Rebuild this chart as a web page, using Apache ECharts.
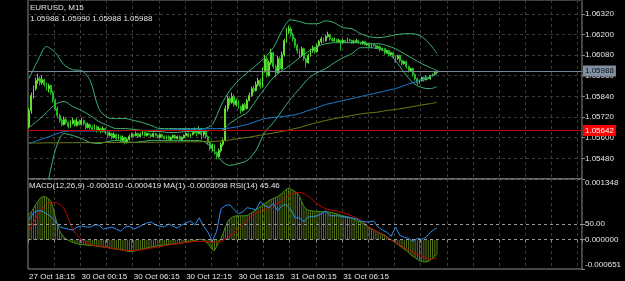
<!DOCTYPE html>
<html>
<head>
<meta charset="utf-8">
<script src="https://cdn.jsdelivr.net/npm/echarts@6/dist/echarts.min.js"></script>
<style>
  html, body { margin: 0; padding: 0; background: #000; }
  #main { width: 625px; height: 281px; }
</style>
</head>
<body>
<div id="main"></div>
<script>
// ---- chart data ----
const symbolTitle = 'EURUSD, M15';
const ohlcLine = '1.05988 1.05990 1.05988 1.05988';
const macdTitle = 'MACD(12,26,9) -0.000310 -0.000419 MA(1) -0.0003098 RSI(14) 45.46';

const timeLabelBars = [0, 24, 48, 72, 96, 120, 144];
const timeLabels = ['27 Oct 18:15', '30 Oct 00:15', '30 Oct 06:15', '30 Oct 12:15', '30 Oct 18:15', '31 Oct 00:15', '31 Oct 06:15'];

const bidPrice = 1.05988;
const levelPrice = 1.05642;

const opens = [
  1.05665, 1.05758, 1.05845, 1.05885, 1.05932, 1.05943, 1.05920, 1.05937, 1.05908, 1.05885,
  1.05903, 1.05862, 1.05816, 1.05769, 1.05729, 1.05700, 1.05677, 1.05706, 1.05688, 1.05665,
  1.05682, 1.05700, 1.05671, 1.05694, 1.05677, 1.05700, 1.05682, 1.05659, 1.05677, 1.05659,
  1.05648, 1.05665, 1.05642, 1.05653, 1.05636, 1.05653, 1.05630, 1.05613, 1.05624, 1.05601,
  1.05619, 1.05595, 1.05607, 1.05584, 1.05601, 1.05572, 1.05590, 1.05607, 1.05619, 1.05613,
  1.05624, 1.05607, 1.05619, 1.05630, 1.05613, 1.05624, 1.05619, 1.05607, 1.05624, 1.05613,
  1.05601, 1.05619, 1.05607, 1.05595, 1.05607, 1.05590, 1.05601, 1.05613, 1.05595, 1.05607,
  1.05590, 1.05601, 1.05613, 1.05624, 1.05607, 1.05619, 1.05630, 1.05642, 1.05624, 1.05648,
  1.05619, 1.05636, 1.05607, 1.05572, 1.05537, 1.05555, 1.05514, 1.05491, 1.05526, 1.05561,
  1.05584, 1.05769, 1.05827, 1.05804, 1.05839, 1.05792, 1.05816, 1.05781, 1.05758, 1.05792,
  1.05769, 1.05816, 1.05845, 1.05885, 1.05874, 1.05908, 1.05932, 1.05897, 1.05990, 1.06059,
  1.05961, 1.06036, 1.06094, 1.06013, 1.05978, 1.06059, 1.06001, 1.06082, 1.06164, 1.06222,
  1.06233, 1.06198, 1.06175, 1.06135, 1.06106, 1.06077, 1.06117, 1.06059, 1.06036, 1.06077,
  1.06106, 1.06123, 1.06100, 1.06135, 1.06158, 1.06175, 1.06164, 1.06187, 1.06198, 1.06175,
  1.06164, 1.06169, 1.06158, 1.06164, 1.06152, 1.06164, 1.06158, 1.06169, 1.06164, 1.06152,
  1.06158, 1.06164, 1.06152, 1.06146, 1.06158, 1.06140, 1.06146, 1.06129, 1.06140, 1.06135,
  1.06123, 1.06129, 1.06111, 1.06117, 1.06094, 1.06106, 1.06082, 1.06094, 1.06071, 1.06059,
  1.06077, 1.06048, 1.06030, 1.06042, 1.06013, 1.05990, 1.06001, 1.05966, 1.05943, 1.05920,
  1.05932, 1.05949, 1.05937, 1.05949, 1.05943, 1.05961, 1.05966, 1.05978
];
const closes = [
  1.05758, 1.05845, 1.05885, 1.05932, 1.05943, 1.05920, 1.05937, 1.05908, 1.05885, 1.05903,
  1.05862, 1.05816, 1.05769, 1.05729, 1.05700, 1.05677, 1.05706, 1.05688, 1.05665, 1.05682,
  1.05700, 1.05671, 1.05694, 1.05677, 1.05700, 1.05682, 1.05659, 1.05677, 1.05659, 1.05648,
  1.05665, 1.05642, 1.05653, 1.05636, 1.05653, 1.05630, 1.05613, 1.05624, 1.05601, 1.05619,
  1.05595, 1.05607, 1.05584, 1.05601, 1.05572, 1.05590, 1.05607, 1.05619, 1.05613, 1.05624,
  1.05607, 1.05619, 1.05630, 1.05613, 1.05624, 1.05619, 1.05607, 1.05624, 1.05613, 1.05601,
  1.05619, 1.05607, 1.05595, 1.05607, 1.05590, 1.05601, 1.05613, 1.05595, 1.05607, 1.05590,
  1.05601, 1.05613, 1.05624, 1.05607, 1.05619, 1.05630, 1.05642, 1.05624, 1.05648, 1.05619,
  1.05636, 1.05607, 1.05572, 1.05537, 1.05555, 1.05514, 1.05491, 1.05526, 1.05561, 1.05584,
  1.05769, 1.05827, 1.05804, 1.05839, 1.05792, 1.05816, 1.05781, 1.05758, 1.05792, 1.05769,
  1.05816, 1.05845, 1.05885, 1.05874, 1.05908, 1.05932, 1.05897, 1.05990, 1.06059, 1.05961,
  1.06036, 1.06094, 1.06013, 1.05978, 1.06059, 1.06001, 1.06082, 1.06164, 1.06222, 1.06233,
  1.06198, 1.06175, 1.06135, 1.06106, 1.06077, 1.06117, 1.06059, 1.06036, 1.06077, 1.06106,
  1.06123, 1.06100, 1.06135, 1.06158, 1.06175, 1.06164, 1.06187, 1.06198, 1.06175, 1.06164,
  1.06169, 1.06158, 1.06164, 1.06152, 1.06164, 1.06158, 1.06169, 1.06164, 1.06152, 1.06158,
  1.06164, 1.06152, 1.06146, 1.06158, 1.06140, 1.06146, 1.06129, 1.06140, 1.06135, 1.06123,
  1.06129, 1.06111, 1.06117, 1.06094, 1.06106, 1.06082, 1.06094, 1.06071, 1.06059, 1.06077,
  1.06048, 1.06030, 1.06042, 1.06013, 1.05990, 1.06001, 1.05966, 1.05943, 1.05920, 1.05932,
  1.05949, 1.05937, 1.05949, 1.05943, 1.05961, 1.05966, 1.05978, 1.05988
];
const lows = [
  1.05653, 1.05740, 1.05827, 1.05874, 1.05914, 1.05903, 1.05908, 1.05897, 1.05874, 1.05862,
  1.05851, 1.05804, 1.05758, 1.05712, 1.05688, 1.05665, 1.05671, 1.05677, 1.05653, 1.05659,
  1.05677, 1.05665, 1.05665, 1.05671, 1.05671, 1.05671, 1.05648, 1.05653, 1.05648, 1.05636,
  1.05642, 1.05630, 1.05636, 1.05624, 1.05630, 1.05619, 1.05601, 1.05607, 1.05590, 1.05595,
  1.05584, 1.05590, 1.05572, 1.05578, 1.05561, 1.05566, 1.05584, 1.05601, 1.05601, 1.05607,
  1.05601, 1.05601, 1.05613, 1.05607, 1.05607, 1.05613, 1.05601, 1.05601, 1.05607, 1.05595,
  1.05595, 1.05601, 1.05590, 1.05590, 1.05584, 1.05584, 1.05595, 1.05590, 1.05590, 1.05584,
  1.05584, 1.05595, 1.05607, 1.05601, 1.05601, 1.05613, 1.05624, 1.05607, 1.05619, 1.05590,
  1.05607, 1.05595, 1.05561, 1.05526, 1.05520, 1.05503, 1.05474, 1.05480, 1.05514, 1.05549,
  1.05578, 1.05752, 1.05787, 1.05798, 1.05781, 1.05781, 1.05769, 1.05740, 1.05752, 1.05758,
  1.05764, 1.05810, 1.05839, 1.05862, 1.05868, 1.05897, 1.05885, 1.05891, 1.05978, 1.05949,
  1.05955, 1.06024, 1.06001, 1.05949, 1.05972, 1.05990, 1.05995, 1.06071, 1.06152, 1.06204,
  1.06187, 1.06158, 1.06123, 1.06088, 1.06065, 1.06071, 1.06048, 1.06007, 1.06030, 1.06071,
  1.06094, 1.06088, 1.06094, 1.06129, 1.06146, 1.06152, 1.06158, 1.06181, 1.06164, 1.06158,
  1.06158, 1.06152, 1.06152, 1.06106, 1.06146, 1.06152, 1.06152, 1.06158, 1.06146, 1.06146,
  1.06152, 1.06146, 1.06140, 1.06140, 1.06135, 1.06135, 1.06123, 1.06123, 1.06129, 1.06117,
  1.06117, 1.06100, 1.06106, 1.06082, 1.06088, 1.06071, 1.06077, 1.06059, 1.06036, 1.06053,
  1.06036, 1.06019, 1.06024, 1.06001, 1.05978, 1.05984, 1.05955, 1.05932, 1.05908, 1.05914,
  1.05926, 1.05926, 1.05932, 1.05937, 1.05937, 1.05955, 1.05961, 1.05972
];
const highs = [
  1.05775, 1.05862, 1.05903, 1.05949, 1.05972, 1.05955, 1.05961, 1.05943, 1.05920, 1.05914,
  1.05908, 1.05874, 1.05827, 1.05781, 1.05740, 1.05712, 1.05723, 1.05717, 1.05694, 1.05700,
  1.05717, 1.05706, 1.05712, 1.05706, 1.05717, 1.05706, 1.05688, 1.05688, 1.05682, 1.05671,
  1.05677, 1.05671, 1.05665, 1.05659, 1.05665, 1.05659, 1.05636, 1.05636, 1.05630, 1.05630,
  1.05624, 1.05619, 1.05613, 1.05613, 1.05607, 1.05601, 1.05619, 1.05630, 1.05624, 1.05636,
  1.05630, 1.05630, 1.05642, 1.05636, 1.05630, 1.05630, 1.05624, 1.05630, 1.05630, 1.05619,
  1.05624, 1.05624, 1.05613, 1.05613, 1.05613, 1.05607, 1.05619, 1.05619, 1.05613, 1.05613,
  1.05607, 1.05619, 1.05630, 1.05630, 1.05624, 1.05636, 1.05659, 1.05648, 1.05665, 1.05653,
  1.05642, 1.05642, 1.05613, 1.05578, 1.05566, 1.05561, 1.05520, 1.05537, 1.05572, 1.05595,
  1.05787, 1.05845, 1.05839, 1.05862, 1.05851, 1.05827, 1.05821, 1.05787, 1.05798, 1.05804,
  1.05827, 1.05862, 1.05897, 1.05903, 1.05926, 1.05949, 1.05943, 1.06007, 1.06082, 1.06071,
  1.06048, 1.06117, 1.06100, 1.06024, 1.06077, 1.06071, 1.06100, 1.06175, 1.06239, 1.06250,
  1.06245, 1.06210, 1.06181, 1.06146, 1.06117, 1.06129, 1.06123, 1.06065, 1.06088, 1.06117,
  1.06135, 1.06129, 1.06146, 1.06169, 1.06187, 1.06181, 1.06198, 1.06216, 1.06204, 1.06181,
  1.06181, 1.06175, 1.06175, 1.06169, 1.06175, 1.06169, 1.06181, 1.06175, 1.06169, 1.06169,
  1.06175, 1.06169, 1.06158, 1.06164, 1.06164, 1.06152, 1.06152, 1.06146, 1.06146, 1.06140,
  1.06135, 1.06135, 1.06123, 1.06123, 1.06111, 1.06111, 1.06100, 1.06100, 1.06077, 1.06082,
  1.06082, 1.06053, 1.06048, 1.06048, 1.06019, 1.06007, 1.06007, 1.05972, 1.05949, 1.05937,
  1.05955, 1.05955, 1.05961, 1.05955, 1.05966, 1.05972, 1.05984, 1.05990
];

// indicator lines, one reading every 4 bars (last one = last bar)
const bandUpper = [
  1.05943, 1.06048, 1.06129, 1.06094, 1.06024, 1.05995, 1.05990, 1.05932, 1.05769, 1.05717,
  1.05711, 1.05711, 1.05700, 1.05688, 1.05671, 1.05653, 1.05653, 1.05653, 1.05653, 1.05653,
  1.05653, 1.05677, 1.05787, 1.05874, 1.05932, 1.05978, 1.06019, 1.06065, 1.06123, 1.06222,
  1.06285, 1.06274, 1.06262, 1.06262, 1.06279, 1.06268, 1.06239, 1.06233, 1.06204, 1.06187,
  1.06181, 1.06187, 1.06198, 1.06204, 1.06204, 1.06187, 1.06140, 1.06088
];
const bandMiddle = [
  1.05659, 1.05700, 1.05746, 1.05793, 1.05810, 1.05781, 1.05758, 1.05729, 1.05694, 1.05671,
  1.05653, 1.05653, 1.05648, 1.05642, 1.05636, 1.05636, 1.05630, 1.05630, 1.05636, 1.05636,
  1.05636, 1.05642, 1.05642, 1.05682, 1.05717, 1.05746, 1.05816, 1.05885, 1.05949, 1.05990,
  1.06024, 1.06065, 1.06100, 1.06129, 1.06146, 1.06152, 1.06152, 1.06152, 1.06152, 1.06146,
  1.06146, 1.06135, 1.06117, 1.06088, 1.06059, 1.06030, 1.06007, 1.05990
];
const bandLower = [
  null, null, 1.05294, 1.05526, 1.05624, 1.05613, 1.05595, 1.05572, 1.05566, 1.05578,
  1.05584, 1.05578, 1.05572, 1.05578, 1.05584, 1.05584, 1.05584, 1.05584, 1.05584, 1.05584,
  1.05578, 1.05537, 1.05468, 1.05439, 1.05450, 1.05468, 1.05526, 1.05630, 1.05688, 1.05758,
  1.05827, 1.05885, 1.05943, 1.05978, 1.06001, 1.06036, 1.06065, 1.06088, 1.06123, 1.06123,
  1.06117, 1.06094, 1.06048, 1.05978, 1.05920, 1.05891, 1.05885, 1.05897
];
const maBlue = [
  1.05566, 1.05584, 1.05601, 1.05619, 1.05636, 1.05639, 1.05639, 1.05639, 1.05639, 1.05640,
  1.05640, 1.05641, 1.05642, 1.05642, 1.05643, 1.05644, 1.05645, 1.05646, 1.05648, 1.05649,
  1.05651, 1.05652, 1.05653, 1.05656, 1.05665, 1.05677, 1.05694, 1.05711, 1.05717, 1.05723,
  1.05729, 1.05740, 1.05758, 1.05775, 1.05793, 1.05804, 1.05816, 1.05827, 1.05839, 1.05851,
  1.05862, 1.05874, 1.05885, 1.05903, 1.05920, 1.05937, 1.05955, 1.05972
];
const maOlive = [
  1.05569, 1.05569, 1.05570, 1.05570, 1.05571, 1.05571, 1.05571, 1.05571, 1.05572, 1.05572,
  1.05572, 1.05572, 1.05573, 1.05573, 1.05573, 1.05574, 1.05575, 1.05575, 1.05576, 1.05576,
  1.05577, 1.05578, 1.05581, 1.05587, 1.05595, 1.05601, 1.05610, 1.05619, 1.05627, 1.05636,
  1.05648, 1.05659, 1.05674, 1.05688, 1.05700, 1.05711, 1.05720, 1.05729, 1.05738, 1.05744,
  1.05749, 1.05758, 1.05764, 1.05772, 1.05781, 1.05790, 1.05798, 1.05804
];

// lower pane: MACD histogram per bar, in millionths
const macdHistE6 = [
  552, 620, 688, 779, 847, 916, 950, 961, 938, 904,
  847, 711, 507, 325, 189, 120, 52, 18, -16, -39,
  -61, -73, -84, -107, -107, -114, -118, -123, -130, -130,
  -136, -143, -152, -157, -164, -170, -175, -184, -193, -202,
  -211, -216, -220, -232, -243, -254, -266, -266, -254, -243,
  -232, -220, -209, -198, -186, -175, -164, -152, -148, -141,
  -130, -125, -118, -111, -107, -102, -98, -93, -89, -84,
  -75, -66, -57, -48, -39, -30, -16, -5, 7, 7,
  -16, -50, -84, -152, -220, -243, -152, -61, 30, 143,
  279, 393, 461, 495, 518, 529, 529, 529, 529, 529,
  541, 563, 598, 632, 666, 700, 734, 768, 802, 836,
  870, 893, 916, 938, 961, 995, 1029, 1075, 1120, 1143,
  1120, 1097, 1063, 1029, 961, 847, 734, 688, 654, 643,
  638, 634, 629, 625, 620, 620, 620, 616, 609, 598,
  586, 575, 563, 541, 529, 518, 507, 495, 473, 450,
  427, 404, 393, 370, 336, 302, 268, 245, 211, 189,
  166, 143, 120, 98, 64, 30, -5, -39, -73, -107,
  -141, -175, -209, -243, -289, -334, -368, -402, -436, -470,
  -482, -493, -493, -482, -448, -414, -379, -311
];
// MACD signal, every 4 bars, in millionths
const macdSignalE6 = [
  189, 552, 779, 825, 688, 234, 7, -107, -141, -175,
  -209, -243, -239, -220, -186, -152, -118, -84, -61, -39,
  -39, -50, -39, 75, 234, 438, 598, 666, 757, 870,
  1006, 1052, 961, 802, 688, 643, 598, 529, 438, 279,
  166, 52, -61, -175, -289, -368, -436, -419
];
// RSI(14), every 2 bars
const rsi = [
  54.5, 62.5, 64.8, 64.2, 61.4, 58.0, 53.4, 46.6, 45.5, 44.3,
  43.2, 46.6, 47.7, 46.6, 46.6, 48.9, 48.9, 44.3, 45.5, 46.6,
  44.3, 42.0, 46.6, 47.7, 44.3, 46.6, 48.9, 51.1, 52.3, 48.9,
  47.7, 46.6, 50.0, 47.7, 45.5, 48.9, 51.1, 53.4, 48.9, 56.8,
  47.7, 40.9, 30.7, 42.0, 67.0, 70.5, 71.6, 65.9, 61.4, 63.6,
  68.2, 67.0, 65.9, 75.0, 70.5, 68.2, 72.7, 64.8, 70.5, 71.6,
  65.9, 56.8, 56.8, 52.3, 58.0, 58.0, 59.1, 61.4, 64.8, 59.1,
  59.1, 59.1, 58.0, 57.4, 56.8, 55.7, 53.4, 52.3, 52.3, 53.4,
  46.6, 43.2, 40.9, 36.4, 46.6, 37.5, 35.2, 34.1, 30.7, 34.1,
  33.0, 35.2, 40.9, 44.3, 45.46
];

const macdMin = -0.000651, macdMax = 0.001348;
const rsiLevel = 50;

// ---- layout / style ----
const SLOTS = 254;          // visible bar slots incl. the empty shift area
const GRID_EVERY = 12;      // vertical grid line every 3 hours
const LAST_BAR = opens.length - 1;
const slots = Array.from({ length: SLOTS }, (_, i) => String(i));
const FONT = 'Liberation Sans';
const TXT = '#e6e6e6';
const FRAME = '#8c8c8c';
const GRID = '#3b3b3b';

function sparse(vals, step, scale) {
  return vals.map((v, k) => [Math.min(k * step, LAST_BAR), v == null ? null : v * (scale || 1)]);
}
const isTimeTick = (i) => timeLabelBars.indexOf(i) >= 0;
const isGridBar = (i) => i % GRID_EVERY === 0;

function timeAxis(gridIndex, labels) {
  return {
    type: 'category', gridIndex: gridIndex, data: slots, boundaryGap: true,
    axisLine: { show: false },
    axisTick: { show: labels, interval: isGridBar, length: 3, lineStyle: { color: FRAME } },
    axisLabel: {
      show: labels, interval: isTimeTick, align: 'left', margin: 4,
      color: TXT, fontSize: 8, fontFamily: FONT,
      formatter: (v) => timeLabels[timeLabelBars.indexOf(Number(v))]
    },
    splitLine: { show: true, interval: isGridBar, lineStyle: { color: GRID, type: [3, 3], width: 1 } }
  };
}

const candleData = opens.map((o, i) => [o, closes[i], lows[i], highs[i]]);
const lineStyle = (c) => ({ type: 'line', symbol: 'none', silent: true, lineStyle: { color: c, width: 1 }, smooth: 0.3 });
const levelLabel = (txt, bg, fg) => ({
  show: true, position: 'end', distance: 1, formatter: txt,
  backgroundColor: bg, color: fg, fontSize: 8, fontFamily: FONT, padding: [2, 2, 1, 2]
});

const chart = echarts.init(document.getElementById('main'));
chart.setOption({
  backgroundColor: '#000',
  animation: false,
  title: [
    { text: symbolTitle, subtext: ohlcLine, left: 30, top: 4, itemGap: 3, padding: 0,
      textStyle: { color: TXT, fontSize: 8, fontWeight: 'normal', fontFamily: FONT },
      subtextStyle: { color: TXT, fontSize: 8, fontFamily: FONT } },
    { text: macdTitle, left: 29, top: 182, padding: 0,
      textStyle: { color: TXT, fontSize: 8, fontWeight: 'normal', fontFamily: FONT } }
  ],
  grid: [
    { left: 28, right: 43, top: 0, height: 179, show: true, borderColor: FRAME, borderWidth: 1, backgroundColor: 'transparent' },
    { left: 28, right: 43, top: 179, height: 90, show: true, borderColor: FRAME, borderWidth: 1, backgroundColor: 'transparent' }
  ],
  xAxis: [timeAxis(0, false), timeAxis(1, true)],
  yAxis: [
    { type: 'value', gridIndex: 0, position: 'right', min: 1.0536, max: 1.0640, interval: 0.0012,
      axisLine: { show: false },
      axisTick: { show: true, length: 3, lineStyle: { color: FRAME } },
      axisLabel: { color: TXT, fontSize: 8, fontFamily: FONT, margin: 3, showMinLabel: false, showMaxLabel: false,
        formatter: (v) => v.toFixed(5) },
      splitLine: { show: true, lineStyle: { color: GRID, type: [3, 3], width: 1 } } },
    { type: 'value', gridIndex: 1, position: 'right', min: macdMin, max: macdMax,
      axisLine: { show: false },
      axisTick: { show: true, length: 3, customValues: [macdMin, 0, macdMax], lineStyle: { color: FRAME } },
      axisLabel: { color: TXT, fontSize: 8, fontFamily: FONT, margin: 3, customValues: [macdMin, 0, macdMax],
        verticalAlignMinLabel: 'bottom', verticalAlignMaxLabel: 'top',
        formatter: (v) => v.toFixed(6) },
      splitLine: { show: false } },
    { type: 'value', gridIndex: 1, position: 'right', min: 0, max: 100,
      axisLine: { show: false },
      axisTick: { show: true, length: 3, customValues: [rsiLevel], lineStyle: { color: FRAME } },
      axisLabel: { color: TXT, fontSize: 8, fontFamily: FONT, margin: 3, customValues: [rsiLevel],
        formatter: (v) => v.toFixed(2) },
      splitLine: { show: false } }
  ],
  series: [
    { type: 'candlestick', xAxisIndex: 0, yAxisIndex: 0, data: candleData, barWidth: 1.4, silent: true,
      itemStyle: { color: '#a8ff70', color0: '#1fbf1f', borderColor: '#66dd33', borderColor0: '#1fbf1f', borderWidth: 1 } },
    Object.assign(lineStyle('#3cb371'), { xAxisIndex: 0, yAxisIndex: 0, data: sparse(bandUpper, 4) }),
    Object.assign(lineStyle('#3cb371'), { xAxisIndex: 0, yAxisIndex: 0, data: sparse(bandMiddle, 4) }),
    Object.assign(lineStyle('#3cb371'), { xAxisIndex: 0, yAxisIndex: 0, data: sparse(bandLower, 4) }),
    Object.assign(lineStyle('#6b7d12'), { xAxisIndex: 0, yAxisIndex: 0, data: sparse(maOlive, 4) }),
    Object.assign(lineStyle('#1e7bd0'), { xAxisIndex: 0, yAxisIndex: 0, data: sparse(maBlue, 4), z: 3,
      markLine: { symbol: 'none', silent: true, animation: false, precision: 5,
        data: [
          { yAxis: bidPrice, lineStyle: { color: '#778899', width: 1, type: 'solid' },
            label: levelLabel(bidPrice.toFixed(5), '#7f90a2', '#111') },
          { yAxis: levelPrice, lineStyle: { color: '#c80000', width: 1, type: 'solid' },
            label: levelLabel(levelPrice.toFixed(5), '#ff0000', '#fff') }
        ] } }),
    // lower pane
    { type: 'bar', xAxisIndex: 1, yAxisIndex: 1, data: macdHistE6.map((v) => v / 1e6), barWidth: 1, silent: true,
      itemStyle: { color: '#5a7a18' },
      markLine: { symbol: 'none', silent: true, precision: 6, label: { show: false },
        lineStyle: { color: '#9a9a9a', type: [3, 3], width: 1 }, data: [{ yAxis: 0 }] } },
    Object.assign(lineStyle('#3f9410'), { xAxisIndex: 1, yAxisIndex: 1, smooth: false, data: macdHistE6.map((v, i) => [i, v / 1e6]) }),
    Object.assign(lineStyle('#c40000'), { xAxisIndex: 1, yAxisIndex: 1, data: sparse(macdSignalE6, 4, 1e-6) }),
    Object.assign(lineStyle('#2a8ff0'), { xAxisIndex: 1, yAxisIndex: 2, smooth: false, data: sparse(rsi, 2),
      markLine: { symbol: 'none', silent: true, label: { show: false },
        lineStyle: { color: '#9a9a9a', type: [3, 3], width: 1 }, data: [{ yAxis: rsiLevel }] } })
  ]
});
</script>
</body>
</html>
